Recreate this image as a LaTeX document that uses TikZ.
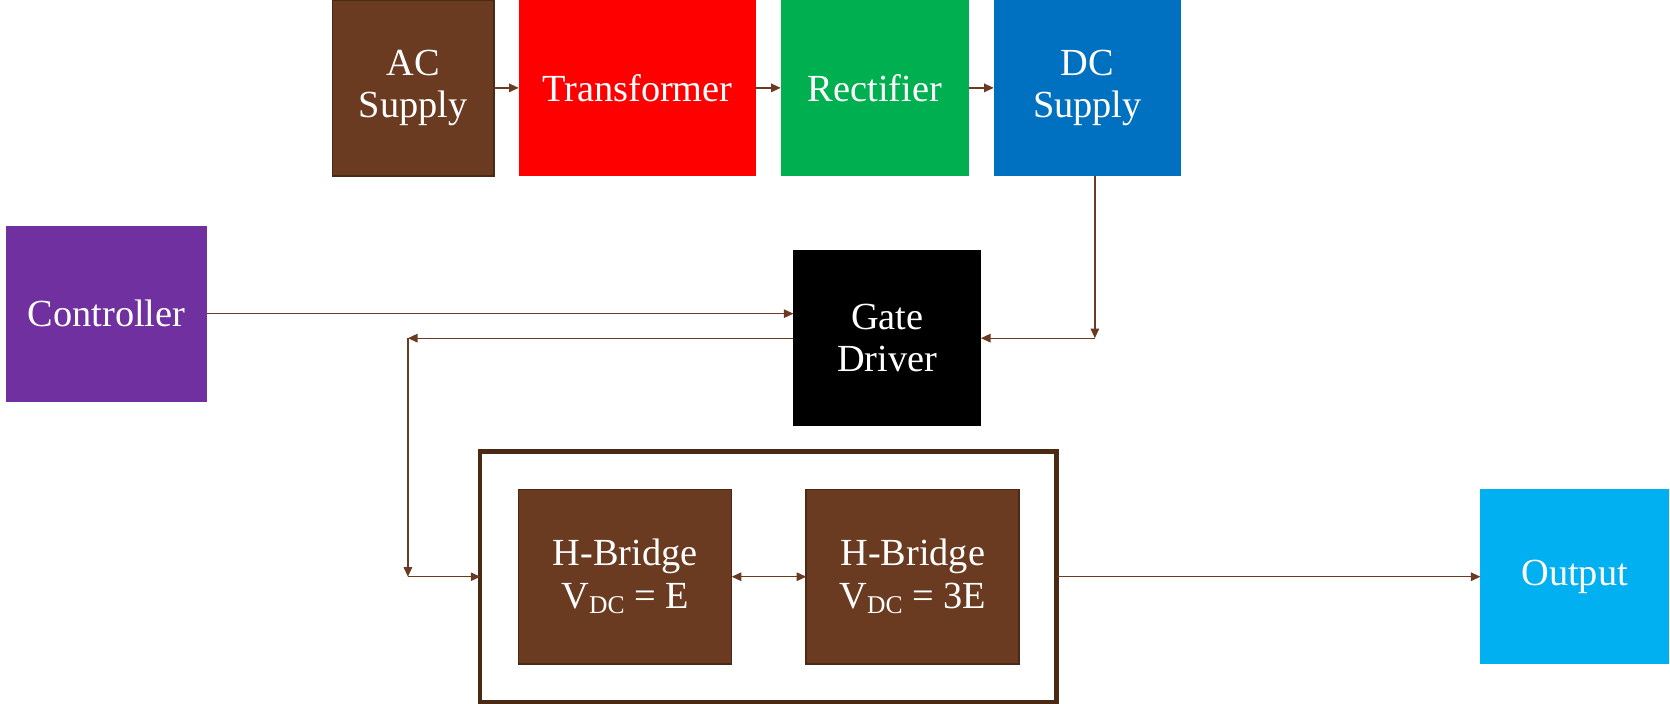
\documentclass[tikz,border=0pt]{standalone}
\usepackage{fontspec}
\setmainfont{Liberation Serif}
\usetikzlibrary{arrows.meta}
\definecolor{brn}{HTML}{6A3A21}
\definecolor{dbrn}{HTML}{4A2915}
\definecolor{rd}{HTML}{FF0000}
\definecolor{grn}{HTML}{00B050}
\definecolor{blu}{HTML}{0070C0}
\definecolor{prp}{HTML}{7030A0}
\definecolor{cyn}{HTML}{00B0F0}
\newcommand{\vdcsub}[1]{V\raisebox{-0.3ex}{\fontsize{24}{24}\selectfont DC} = #1}
\begin{document}
\begin{tikzpicture}[x=1pt,y=-1pt,
  blk/.style={rectangle,inner sep=0pt,outer sep=0pt,minimum height=165pt,text=white,align=center,font=\fontsize{36}{40}\selectfont},
  conn/.style={draw=brn,line width=1.2pt,-{Triangle[length=9pt,width=8pt]}},
  conn2/.style={draw=brn,line width=1.2pt,{Triangle[length=9pt,width=8pt]}-{Triangle[length=9pt,width=8pt]}}]
\useasboundingbox (0,0) rectangle (1568,661);
\node[blk,fill=brn,draw=dbrn,line width=1.5pt,minimum width=152pt] (ac) at (388,82.5) {AC\\Supply};
\node[blk,fill=rd,minimum width=223pt] (tr) at (598.5,82.5) {Transformer};
\node[blk,fill=grn,minimum width=177pt] (rec) at (821.5,82.5) {Rectifier};
\node[blk,fill=blu,minimum width=176pt] (dc) at (1021,82.5) {DC\\Supply};
\node[blk,fill=prp,minimum width=188pt] (ctrl) at (100,294.5) {Controller};
\node[blk,fill=black,minimum width=176pt] (gd) at (833,317.5) {Gate\\Driver};
\node[rectangle,inner sep=0pt,outer sep=0pt,draw=dbrn,line width=4pt,minimum width=541pt,minimum height=235pt] (hb) at (721.5,541.5) {};
\node[blk,fill=brn,draw=dbrn,line width=1.5pt,minimum width=200pt,minimum height=164pt] (hb1) at (587,541.5) {H-Bridge\\\vdcsub{E}};
\node[blk,fill=brn,draw=dbrn,line width=1.5pt,minimum width=200pt,minimum height=164pt] (hb2) at (857,541.5) {H-Bridge\\\vdcsub{3E}};
\node[blk,fill=cyn,minimum width=177pt,minimum height=164pt] (out) at (1478.5,541.5) {Output};
\coordinate (dcj) at (1028,317.5);
\coordinate (lj) at (383,317.5);
\coordinate (lb) at (383,541.5);
\draw[conn] (ac.east) -- (tr.west);
\draw[conn] (tr.east) -- (rec.west);
\draw[conn] (rec.east) -- (dc.west);
\draw[conn] (dcj |- dc.south) -- (dcj);
\draw[conn] (dcj) -- (gd.east);
\draw[conn] (ctrl.east) -- (ctrl.east -| gd.west);
\draw[conn] (gd.west) -- (lj);
\draw[conn] (lj) -- (lb);
\draw[conn] (lb) -- (hb.west);
\draw[conn2] (hb1.east) -- (hb2.west);
\draw[conn] (hb.east) -- (out.west);
\end{tikzpicture}
\end{document}
